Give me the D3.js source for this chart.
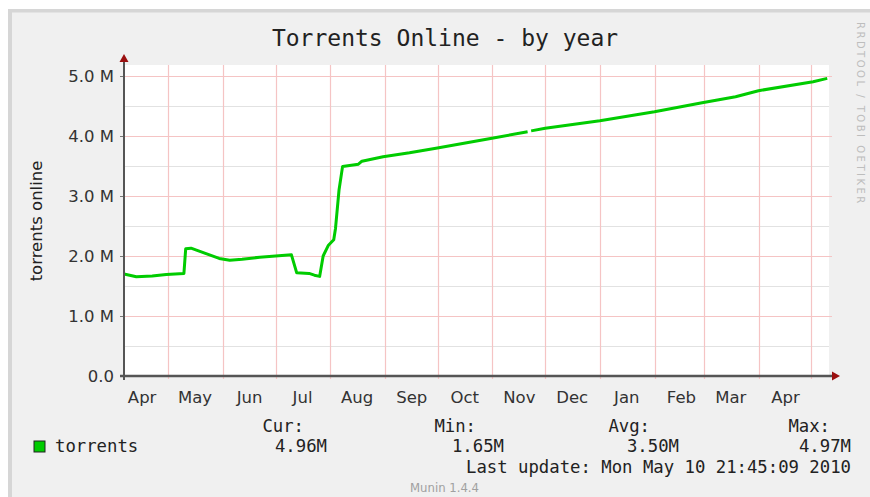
<!DOCTYPE html>
<html>
<head>
<meta charset="utf-8">
<script src="https://cdn.jsdelivr.net/npm/d3@7"></script>
<style>
  html, body { margin: 0; padding: 0; background: #fff; }
  svg { display: block; }
  .sans { font-family: "DejaVu Sans", sans-serif; }
  .mono { font-family: "DejaVu Sans Mono", monospace; }
</style>
</head>
<body>
<div id="container"></div>
<script>
// Data (values in millions)
const dates = [
  "2009-04-06", "2009-04-13", "2009-04-22", "2009-04-30", "2009-05-10",
  "2009-05-11", "2009-05-14", "2009-05-21", "2009-05-30", "2009-06-05",
  "2009-06-12", "2009-06-22", "2009-07-01", "2009-07-10", "2009-07-13",
  "2009-07-20", "2009-07-23", "2009-07-26", "2009-07-28", "2009-07-31",
  "2009-08-03", "2009-08-04", "2009-08-06", "2009-08-08", "2009-08-17",
  "2009-08-19", "2009-08-31", "2009-09-15", "2009-09-30", "2009-10-31",
  "2009-11-21", "2009-11-22", "2009-11-23", "2009-12-01", "2010-01-01",
  "2010-02-01", "2010-02-28", "2010-03-19", "2010-04-01", "2010-05-02",
  "2010-05-10"
];
const torrents = [
  1.70, 1.655, 1.665, 1.69, 1.71,
  2.12, 2.13, 2.055, 1.96, 1.93,
  1.945, 1.98, 2.0, 2.02, 1.72,
  1.71, 1.68, 1.66, 2.0, 2.18,
  2.27, 2.46, 3.1, 3.49, 3.53,
  3.58, 3.655, 3.72, 3.795, 3.96,
  4.07, null, 4.085, 4.13, 4.255,
  4.405, 4.555, 4.655, 4.755, 4.905,
  4.96
];

const yTicks = [0, 1, 2, 3, 4, 5];
const yTickLabels = ["0.0", "1.0 M", "2.0 M", "3.0 M", "4.0 M", "5.0 M"];
const yMinorTicks = [0.5, 1.5, 2.5, 3.5, 4.5];

// month boundaries (red grid) and month labels (placed mid month)
const monthStarts = [
  "2009-05-01", "2009-06-01", "2009-07-01", "2009-08-01", "2009-09-01",
  "2009-10-01", "2009-11-01", "2009-12-01", "2010-01-01", "2010-02-01",
  "2010-03-01", "2010-04-01", "2010-05-01"
];
const monthLabelDates = [
  "2009-04-16", "2009-05-16", "2009-06-16", "2009-07-16", "2009-08-16",
  "2009-09-16", "2009-10-16", "2009-11-16", "2009-12-16", "2010-01-16",
  "2010-02-16", "2010-03-16", "2010-04-16"
];
const monthLabels = ["Apr", "May", "Jun", "Jul", "Aug", "Sep", "Oct", "Nov", "Dec", "Jan", "Feb", "Mar", "Apr"];

const legendHeads = ["Cur:", "Min:", "Avg:", "Max:"];
const legendValues = ["4.96M", "1.65M", "3.50M", "4.97M"];

const title = "Torrents Online - by year";
const yTitle = "torrents online";
const seriesName = "torrents";
const lastUpdate = "Last update: Mon May 10 21:45:09 2010";
const version = "Munin 1.4.4";
const watermark = "RRDTOOL / TOBI OETIKER";

// Graph size
const w = 870;
const h = 497;
const plot = { left: 124, right: 829, top: 65, bottom: 376 };

const parse = d3.utcParse("%Y-%m-%d");

const svg = d3.select("#container")
  .append("svg")
  .attr("width", w)
  .attr("height", h);

// canvas + thin 3d-ish border at top / left
svg.append("rect").attr("x", 8).attr("y", 9).attr("width", w - 8).attr("height", h - 9).attr("fill", "#d6d6d6");
svg.append("rect").attr("x", 12).attr("y", 12.5).attr("width", w - 12).attr("height", h - 12.5).attr("fill", "#f0f0f0");

// plot background
svg.append("rect")
  .attr("x", plot.left).attr("y", plot.top)
  .attr("width", plot.right - plot.left).attr("height", plot.bottom - plot.top)
  .attr("fill", "#fff");

const xScale = d3.scaleUtc()
  .domain([parse("2009-04-06"), parse("2010-05-11")])
  .range([plot.left, plot.right]);

const yScale = d3.scaleLinear()
  .domain([0, (plot.bottom - plot.top) / 60])
  .range([plot.bottom, plot.top]);

// minor horizontal grid (grey)
svg.append("g").selectAll("line").data(yMinorTicks).enter().append("line")
  .attr("x1", plot.left).attr("x2", plot.right)
  .attr("y1", d => yScale(d) + 0.5).attr("y2", d => yScale(d) + 0.5)
  .attr("stroke", "#e2e2e2").attr("stroke-width", 1.2);

// major horizontal grid (pink)
svg.append("g").selectAll("line").data(yTicks.slice(1)).enter().append("line")
  .attr("x1", plot.left - 3).attr("x2", plot.right + 3)
  .attr("y1", d => yScale(d) + 0.5).attr("y2", d => yScale(d) + 0.5)
  .attr("stroke", "#f5c4c4").attr("stroke-width", 1.2);

// vertical month grid (pink)
svg.append("g").selectAll("line").data(monthStarts).enter().append("line")
  .attr("x1", d => Math.round(xScale(parse(d))) + 0.5)
  .attr("x2", d => Math.round(xScale(parse(d))) + 0.5)
  .attr("y1", plot.top).attr("y2", plot.bottom + 3)
  .attr("stroke", "#f5c4c4").attr("stroke-width", 1.2);

// y axis labels
const yAxis = d3.axisLeft(yScale)
  .tickValues(yTicks)
  .tickFormat((d, i) => yTickLabels[i])
  .tickSize(4)
  .tickPadding(6);

const yAxisG = svg.append("g")
  .attr("transform", `translate(${plot.left}, 0)`)
  .call(yAxis);
yAxisG.select(".domain").remove();
yAxisG.selectAll(".tick line").attr("stroke", "#777");
yAxisG.selectAll("text")
  .attr("class", "sans")
  .attr("font-size", 16.5)
  .attr("fill", "#333");

// x axis labels
const xAxis = d3.axisBottom(xScale)
  .tickValues(monthLabelDates.map(parse))
  .tickFormat((d, i) => monthLabels[i])
  .tickSize(0)
  .tickPadding(15);

const xAxisG = svg.append("g")
  .attr("transform", `translate(0, ${plot.bottom})`)
  .call(xAxis);
xAxisG.select(".domain").remove();
xAxisG.selectAll("text")
  .attr("class", "sans")
  .attr("font-size", 16.5)
  .attr("fill", "#333");

// the series line
const line = d3.line()
  .defined(d => d.value !== null)
  .x(d => xScale(d.date))
  .y(d => yScale(d.value));

const points = dates.map((d, i) => ({ date: parse(d), value: torrents[i] }));

svg.append("path")
  .datum(points)
  .attr("d", line)
  .attr("fill", "none")
  .attr("stroke", "#00cc00")
  .attr("stroke-width", 3)
  .attr("stroke-linejoin", "round");

// axis lines + arrows
svg.append("line")
  .attr("x1", plot.left - 4).attr("x2", plot.right + 5)
  .attr("y1", plot.bottom).attr("y2", plot.bottom)
  .attr("stroke", "#555").attr("stroke-width", 2.5);
svg.append("line")
  .attr("x1", plot.left).attr("x2", plot.left)
  .attr("y1", plot.bottom + 4).attr("y2", plot.top - 4)
  .attr("stroke", "#555").attr("stroke-width", 2);
svg.append("path")
  .attr("d", `M${plot.right + 11},${plot.bottom} L${plot.right + 3},${plot.bottom - 4.5} L${plot.right + 3},${plot.bottom + 4.5} Z`)
  .attr("fill", "#9b1010");
svg.append("path")
  .attr("d", `M${plot.left},${plot.top - 11} L${plot.left - 4.5},${plot.top - 3} L${plot.left + 4.5},${plot.top - 3} Z`)
  .attr("fill", "#9b1010");

// title
svg.append("text")
  .attr("class", "mono")
  .attr("x", 445).attr("y", 46)
  .attr("text-anchor", "middle")
  .attr("font-size", 23)
  .attr("fill", "#222")
  .text(title);

// y axis title
svg.append("text")
  .attr("class", "sans")
  .attr("transform", "translate(42, 221) rotate(-90)")
  .attr("text-anchor", "middle")
  .attr("font-size", 16.5)
  .attr("fill", "#222")
  .text(yTitle);

// watermark
svg.append("text")
  .attr("class", "sans")
  .attr("transform", "translate(857, 22) rotate(90)")
  .attr("font-size", 10)
  .attr("letter-spacing", 2.5)
  .attr("fill", "#bdbdbd")
  .text(watermark);

////////////////////////
//       Legend       //
////////////////////////
svg.append("rect")
  .attr("x", 34).attr("y", 441).attr("width", 11).attr("height", 11)
  .attr("fill", "#00cc00").attr("stroke", "#222").attr("stroke-width", 1);

svg.append("text")
  .attr("class", "mono")
  .attr("x", 55).attr("y", 452)
  .attr("font-size", 17.3)
  .attr("fill", "#222")
  .text(seriesName);

const headRight = [304, 476, 650, 830];
const valueRight = [327, 504, 679, 851];

svg.append("g").selectAll("text").data(legendHeads).enter().append("text")
  .attr("class", "mono")
  .attr("x", (d, i) => headRight[i]).attr("y", 432)
  .attr("text-anchor", "end")
  .attr("font-size", 17.3)
  .attr("fill", "#222")
  .text(d => d);

svg.append("g").selectAll("text").data(legendValues).enter().append("text")
  .attr("class", "mono")
  .attr("x", (d, i) => valueRight[i]).attr("y", 452)
  .attr("text-anchor", "end")
  .attr("font-size", 17.3)
  .attr("fill", "#222")
  .text(d => d);

svg.append("text")
  .attr("class", "mono")
  .attr("x", 851).attr("y", 473)
  .attr("text-anchor", "end")
  .attr("font-size", 17.3)
  .attr("fill", "#222")
  .text(lastUpdate);

svg.append("text")
  .attr("class", "sans")
  .attr("x", 410).attr("y", 492)
  .attr("font-size", 11.7)
  .attr("fill", "#a0a0a0")
  .text(version);
</script>
</body>
</html>
